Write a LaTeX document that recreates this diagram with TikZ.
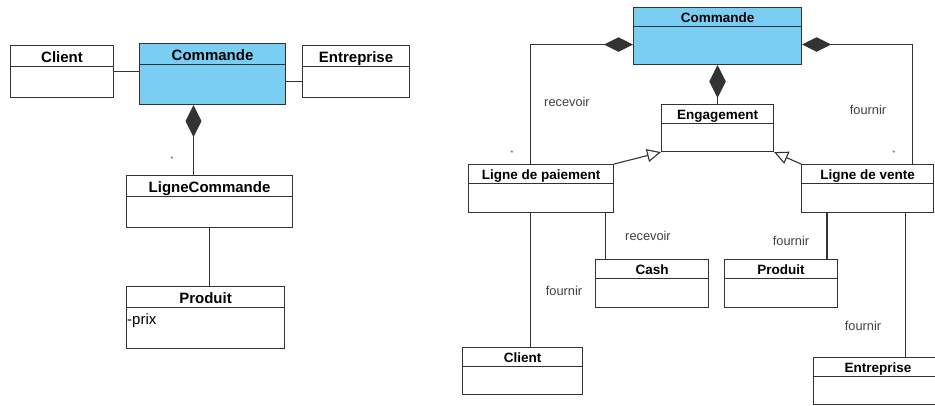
\documentclass[tikz,border=0pt]{standalone}
\usepackage{fontspec}
\setmainfont{Liberation Sans}
\definecolor{ClassBlue}{HTML}{7ACEF4}
\definecolor{LineGray}{HTML}{333333}
\definecolor{LabelGray}{HTML}{404040}
\usetikzlibrary{arrows.meta,positioning}

\begin{document}
\begin{tikzpicture}[x=1pt,y=-1pt,
        cls/.style={draw=LineGray,line width=1.1pt,inner sep=0pt,
          anchor=north west,fill=white,text=black},
        clsL/.style 2 args={cls,minimum width=#1,text height=16.5pt,text depth=#2,
          font=\fontsize{15}{17}\selectfont\bfseries,
          path picture={\draw[LineGray,line width=1.1pt]
            ([yshift=-20.5pt]path picture bounding box.north west) --
            ([yshift=-20.5pt]path picture bounding box.north east);}},
        clsR/.style 2 args={cls,minimum width=#1,text height=15.3pt,text depth=#2,
          font=\fontsize{13.5}{15}\selectfont\bfseries,
          path picture={\draw[LineGray,line width=1.1pt]
            ([yshift=-19pt]path picture bounding box.north west) --
            ([yshift=-19pt]path picture bounding box.north east);}},
        assoc/.style={draw=LineGray,line width=1.1pt},
        comp/.style={assoc,{Diamond[length=#1]}-},
        gen/.style={assoc,-{Triangle[open,length=14pt,width=13pt]}},
        lbl/.style={font=\fontsize{12.8}{14}\selectfont,text=LabelGray,
          inner sep=0pt,anchor=base},
        mult/.style={font=\fontsize{7}{8}\selectfont,text=LabelGray,
          inner sep=0pt,anchor=base}]
        \useasboundingbox (0,0) rectangle (935,405);
        \clip (0,0) rectangle (935,405);

        \node[clsL={103pt}{35.5pt}] (clientL) at (10,45) {Client};
        \node[clsL={146pt}{44.5pt},fill=ClassBlue] (cmdL) at (139,43) {Commande};
        \node[clsL={107pt}{35.5pt}] (entL) at (302,45) {Entreprise};
        \node[clsL={166pt}{35.5pt}] (ligneL) at (126,175) {LigneCommande};
        \node[clsL={158pt}{45.5pt}] (prodL) at (126,286) {Produit};
        \node[font=\fontsize{15}{17}\selectfont,anchor=base west,inner sep=0pt]
          (prix) at (127,324) {-prix};

        \draw[assoc] (clientL.east) -- (clientL.east -| cmdL.west);
        \draw[assoc] ([yshift=-10pt]entL.west) coordinate (entA)
          -- (entA -| cmdL.east);
        \draw[comp={32pt 0 0 width=17pt}] ([xshift=-19pt]cmdL.south) coordinate (cmdA)
          -- (cmdA |- ligneL.north);
        \draw[assoc] (ligneL.south) -- (ligneL.south |- prodL.north);
        \node[mult] (starL) at (172,161) {*};

        \node[clsR={168pt}{41.7pt},fill=ClassBlue] (cmdR) at (633,7) {Commande};
        \node[clsR={112pt}{31.7pt}] (eng) at (661,104) {Engagement};
        \node[clsR={145pt}{32.7pt}] (ldp) at (468,164) {Ligne de paiement};
        \node[clsR={132pt}{32.7pt}] (ldv) at (801,164) {Ligne de vente};
        \node[clsR={113pt}{32.7pt}] (cash) at (595,259) {Cash};
        \node[clsR={113pt}{32.7pt}] (prodR) at (724,259) {Produit};
        \node[clsR={120pt}{31.7pt}] (clientR) at (462,347) {Client};
        \node[clsR={129pt}{31.7pt}] (entR) at (813,357) {Entreprise};

        \draw[comp={29pt 0 0 width=12pt}] ([yshift=-8.5pt]cmdR.west)
          -| ([xshift=-10.5pt]ldp.north);
        \draw[comp={29pt 0 0 width=12pt}] ([yshift=-8.5pt]cmdR.east)
          -| ([xshift=45pt]ldv.north);
        \draw[comp={33pt 0 0 width=15pt}] (cmdR.south) -- (eng.north);
        \draw[gen] (ldp.north east) -- (eng.south west);
        \draw[gen] (ldv.north west) -- (eng.south east);
        \draw[assoc] ([xshift=-10.5pt]ldp.south) coordinate (ldpA)
          -- (ldpA |- clientR.north);
        \draw[assoc] ([xshift=-9pt]ldp.south east) coordinate (ldpB)
          -- (ldpB |- cash.north);
        \draw[assoc] ([xshift=26pt]ldv.south west) coordinate (ldvA)
          -- (ldvA |- prodR.north);
        \draw[assoc] ([xshift=-29pt]ldv.south east) coordinate (ldvB)
          -- (ldvB |- entR.north);

        \node[lbl] (recvA) at (567,106.7) {recevoir};
        \node[lbl] (fournA) at (868,114) {fournir};
        \node[lbl] (recvB) at (648,240) {recevoir};
        \node[lbl] (fournB) at (564,295) {fournir};
        \node[lbl] (fournC) at (791,245.7) {fournir};
        \node[lbl] (fournD) at (863,330.7) {fournir};
        \node[mult] (starA) at (512,155) {*};
        \node[mult] (starB) at (894,155) {*};
\end{tikzpicture}
\end{document}
